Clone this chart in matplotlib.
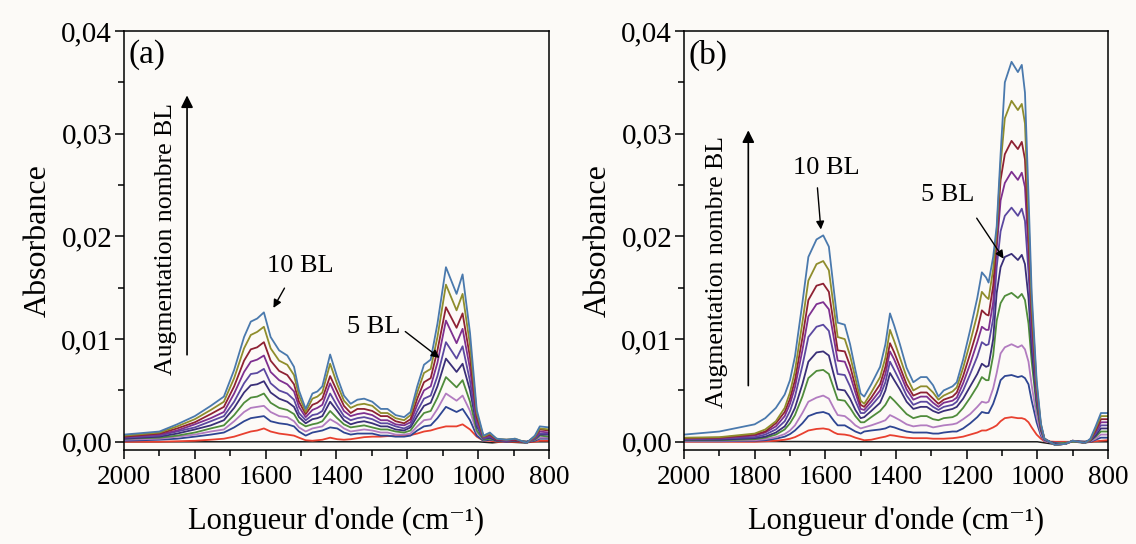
import matplotlib
matplotlib.use('Agg')
import matplotlib.pyplot as plt
from matplotlib.ticker import MultipleLocator, FuncFormatter

plt.rcParams['font.family'] = ['Liberation Serif', 'DejaVu Serif']

# absorbance values are in units of 1e-3
# ---- panel (a) ----
wn_a = [2000, 1900, 1850, 1800, 1755, 1718, 1689, 1661, 1642, 1624,
        1605, 1586, 1562, 1539, 1520, 1506, 1487, 1468, 1454, 1440,
        1418, 1398, 1379, 1360, 1341, 1322, 1299, 1275, 1256, 1233,
        1209, 1191, 1172, 1153, 1134, 1115, 1091, 1061, 1044, 1023,
        1004, 985, 967, 948, 920, 896, 863, 840, 826, 800]
a0_wn = [2000, 1500, 1000, 960, 930, 900, 870, 840, 800]
a0 = [0.0, 0.0, 0.0, -0.1, 0.0, -0.05, -0.1, 0.0, 0.0]
a1 = [0.0, 0.0, 0.05, 0.1, 0.2, 0.3, 0.5, 0.8, 1.0, 1.1,
      1.3, 1.0, 0.8, 0.7, 0.6, 0.4, 0.15, 0.1, 0.15, 0.2,
      0.4, 0.25, 0.2, 0.25, 0.35, 0.45, 0.5, 0.5, 0.55, 0.55,
      0.6, 0.65, 0.8, 1.0, 1.1, 1.3, 1.5, 1.5, 1.7, 1.2,
      0.5, 0.1, 0.1, 0.0, 0.0, 0.0, 0.0, 0.0, 0.1, 0.1]
a2 = [0.1, 0.2, 0.3, 0.5, 0.7, 0.9, 1.4, 2.0, 2.3, 2.4,
      2.5, 2.0, 1.8, 1.7, 1.5, 1.0, 0.6, 0.9, 1.0, 1.1,
      1.4, 1.3, 0.9, 0.7, 0.8, 0.8, 0.8, 0.6, 0.6, 0.5,
      0.5, 0.6, 1.1, 1.5, 1.6, 2.3, 3.4, 2.9, 3.2, 2.1,
      0.6, 0.1, 0.2, 0.1, 0.0, 0.1, 0.0, 0.1, 0.3, 0.3]
a3 = [0.2, 0.3, 0.5, 0.7, 1.0, 1.2, 2.0, 2.9, 3.3, 3.4,
      3.5, 2.9, 2.5, 2.4, 2.0, 1.4, 1.0, 1.3, 1.4, 1.5,
      2.2, 1.8, 1.3, 1.0, 1.1, 1.2, 1.1, 0.9, 0.9, 0.7,
      0.7, 0.8, 1.5, 2.1, 2.2, 3.2, 4.7, 4.0, 4.5, 3.0,
      0.9, 0.2, 0.3, 0.1, 0.1, 0.1, 0.0, 0.2, 0.4, 0.4]
a4 = [0.3, 0.4, 0.6, 0.9, 1.3, 1.6, 2.6, 3.8, 4.3, 4.4,
      4.7, 3.8, 3.3, 3.1, 2.7, 1.9, 1.5, 1.7, 1.8, 2.0,
      3.0, 2.3, 1.7, 1.4, 1.5, 1.6, 1.4, 1.2, 1.2, 1.0,
      0.9, 1.1, 2.0, 2.8, 3.0, 4.3, 6.3, 5.3, 6.0, 3.9,
      1.1, 0.2, 0.3, 0.1, 0.1, 0.1, 0.0, 0.2, 0.6, 0.5]
a5 = [0.3, 0.5, 0.8, 1.2, 1.6, 2.1, 3.3, 4.8, 5.5, 5.6,
      5.9, 4.8, 4.2, 3.9, 3.4, 2.4, 1.8, 2.2, 2.3, 2.5,
      3.9, 3.0, 2.1, 1.7, 1.9, 2.0, 1.8, 1.5, 1.5, 1.2,
      1.1, 1.4, 2.5, 3.5, 3.8, 5.4, 8.1, 6.8, 7.6, 5.0,
      1.5, 0.3, 0.4, 0.1, 0.1, 0.1, 0.0, 0.3, 0.7, 0.7]
a6 = [0.4, 0.6, 1.0, 1.4, 2.0, 2.5, 3.9, 5.7, 6.6, 6.7,
      7.1, 5.7, 5.0, 4.7, 4.1, 2.8, 2.1, 2.6, 2.7, 3.0,
      4.7, 3.5, 2.5, 2.1, 2.3, 2.4, 2.2, 1.8, 1.8, 1.5,
      1.3, 1.6, 3.0, 4.2, 4.5, 6.4, 9.7, 8.1, 9.3, 5.9,
      1.7, 0.3, 0.5, 0.2, 0.1, 0.2, -0.1, 0.3, 0.8, 0.8]
a7 = [0.5, 0.7, 1.1, 1.7, 2.3, 2.9, 4.7, 6.8, 7.8, 8.0,
      8.4, 6.8, 6.0, 5.6, 4.9, 3.4, 2.4, 3.1, 3.3, 3.6,
      5.7, 4.2, 3.0, 2.5, 2.7, 2.8, 2.6, 2.1, 2.1, 1.7,
      1.6, 1.9, 3.6, 5.0, 5.4, 7.7, 11.8, 9.6, 11.0, 7.1,
      2.1, 0.4, 0.6, 0.2, 0.1, 0.2, -0.1, 0.4, 1.0, 0.9]
a8 = [0.5, 0.8, 1.3, 1.9, 2.7, 3.4, 5.4, 7.9, 9.0, 9.2,
      9.7, 7.9, 6.9, 6.5, 5.6, 3.9, 2.7, 3.6, 3.8, 4.2,
      6.4, 4.9, 3.5, 2.8, 3.2, 3.2, 3.0, 2.5, 2.5, 2.0,
      1.8, 2.2, 4.2, 5.8, 6.2, 8.9, 13.1, 11.1, 12.5, 8.2,
      2.4, 0.5, 0.7, 0.2, 0.2, 0.2, -0.1, 0.5, 1.2, 1.1]
a9 = [0.6, 0.9, 1.5, 2.2, 3.1, 3.9, 6.2, 9.1, 10.4, 10.7,
      11.2, 9.1, 7.9, 7.5, 6.5, 4.5, 2.9, 4.2, 4.4, 4.8,
      7.6, 5.6, 4.0, 3.3, 3.6, 3.7, 3.5, 2.8, 2.8, 2.3,
      2.1, 2.6, 4.8, 6.7, 7.1, 10.2, 15.3, 12.8, 14.4, 9.4,
      2.8, 0.5, 0.8, 0.3, 0.2, 0.3, -0.1, 0.5, 1.3, 1.2]
a10 = [0.7, 1.0, 1.7, 2.5, 3.5, 4.4, 7.0, 10.2, 11.7, 12.0,
       12.6, 10.2, 8.9, 8.4, 7.3, 5.0, 3.2, 4.7, 4.9, 5.4,
       8.5, 6.3, 4.5, 3.7, 4.1, 4.2, 3.9, 3.2, 3.2, 2.6,
       2.4, 2.9, 5.4, 7.5, 8.0, 11.5, 17.0, 14.4, 16.3, 10.6,
       3.1, 0.6, 0.9, 0.3, 0.2, 0.3, -0.1, 0.6, 1.5, 1.4]

# ---- panel (b) ----
wn_b = [2000, 1900, 1800, 1770, 1740, 1715, 1700, 1686, 1665, 1648,
        1625, 1606, 1590, 1575, 1565, 1545, 1530, 1515, 1500, 1490,
        1470, 1445, 1430, 1417, 1405, 1389, 1370, 1351, 1330, 1313,
        1295, 1280, 1265, 1240, 1228, 1210, 1190, 1170, 1157, 1145,
        1138, 1125, 1115, 1104, 1092, 1073, 1055, 1044, 1035, 1025,
        1016, 1002, 990, 980, 950, 920, 900, 865, 850, 835,
        820, 800]
b0_wn = [2000, 1500, 1000, 960, 930, 900, 870, 840, 800]
b0 = [0.05, 0.0, 0.0, -0.2, -0.1, 0.0, -0.1, 0.0, 0.0]
b1 = [0.0, 0.0, 0.0, 0.05, 0.1, 0.2, 0.3, 0.45, 0.8, 1.1,
      1.25, 1.3, 1.2, 0.9, 0.75, 0.7, 0.6, 0.4, 0.25, 0.15,
      0.2, 0.4, 0.5, 0.65, 0.6, 0.5, 0.4, 0.35, 0.35, 0.35,
      0.3, 0.3, 0.3, 0.35, 0.4, 0.5, 0.7, 0.9, 1.1, 1.1,
      1.2, 1.4, 1.6, 2.0, 2.3, 2.4, 2.3, 2.3, 2.2, 1.9,
      1.4, 0.7, 0.3, 0.05, 0.0, 0.0, 0.0, 0.0, 0.0, 0.05,
      0.1, 0.15]
b2 = [0.05, 0.05, 0.1, 0.15, 0.3, 0.5, 0.75, 1.1, 1.8, 2.5,
      2.8, 2.9, 2.7, 2.0, 1.6, 1.6, 1.3, 1.0, 0.8, 1.0,
      1.1, 1.2, 1.3, 1.5, 1.4, 1.2, 1.0, 0.9, 0.9, 0.9,
      0.8, 0.8, 0.9, 1.0, 1.0, 1.3, 1.8, 2.4, 2.9, 2.8,
      2.8, 3.7, 4.7, 6.0, 6.4, 6.5, 6.3, 6.4, 6.2, 5.6,
      4.0, 1.9, 0.6, 0.1, -0.1, -0.1, 0.0, 0.0, 0.0, 0.2,
      0.4, 0.4]
b3 = [0.1, 0.1, 0.15, 0.25, 0.45, 0.75, 1.1, 1.6, 2.8, 3.9,
      4.3, 4.5, 4.2, 3.2, 2.6, 2.5, 2.1, 1.6, 1.3, 1.4,
      1.6, 1.9, 2.1, 2.6, 2.4, 2.1, 1.7, 1.5, 1.6, 1.6,
      1.4, 1.5, 1.6, 1.7, 1.8, 2.2, 2.7, 3.4, 3.9, 3.8,
      3.9, 5.2, 6.7, 8.6, 9.2, 9.5, 9.2, 9.4, 9.0, 7.8,
      5.5, 2.5, 0.8, 0.1, -0.2, -0.1, 0.0, 0.0, 0.05, 0.3,
      0.7, 0.7]
b4 = [0.15, 0.15, 0.25, 0.4, 0.7, 1.2, 1.8, 2.6, 4.4, 6.2,
      6.9, 7.0, 6.6, 5.1, 4.1, 4.0, 3.3, 2.5, 1.9, 1.9,
      2.4, 3.0, 3.6, 4.4, 4.0, 3.4, 2.7, 2.3, 2.5, 2.5,
      2.2, 2.1, 2.3, 2.4, 2.6, 3.3, 4.3, 5.4, 6.3, 6.0,
      6.0, 8.4, 11.8, 13.5, 14.2, 14.5, 14.0, 14.4, 13.8, 11.5,
      7.8, 3.4, 1.1, 0.2, -0.2, -0.1, 0.0, 0.0, 0.1, 0.5,
      1.0, 1.0]
b5 = [0.2, 0.2, 0.35, 0.5, 0.9, 1.5, 2.3, 3.3, 5.6, 7.8,
      8.7, 8.8, 8.4, 6.4, 5.1, 5.0, 4.2, 3.1, 2.3, 2.4,
      3.0, 3.8, 5.0, 6.7, 6.0, 5.1, 3.9, 3.2, 3.4, 3.4,
      3.0, 2.8, 3.0, 3.2, 3.4, 4.2, 5.4, 6.6, 7.6, 7.3,
      7.4, 10.0, 14.5, 17.0, 18.0, 18.3, 17.7, 18.2, 17.3, 14.0,
      9.0, 3.9, 1.2, 0.2, -0.2, -0.2, 0.1, 0.0, 0.1, 0.6,
      1.3, 1.3]
b6 = [0.25, 0.3, 0.45, 0.7, 1.2, 2.0, 3.0, 4.4, 7.4, 10.2,
      11.2, 11.4, 10.8, 8.3, 6.6, 6.5, 5.4, 4.0, 2.8, 2.8,
      3.5, 4.5, 5.8, 7.8, 7.0, 5.9, 4.5, 3.6, 3.9, 3.9,
      3.4, 3.1, 3.4, 3.6, 3.9, 5.0, 6.6, 8.3, 9.7, 9.4,
      9.5, 12.0, 17.0, 20.5, 22.0, 22.8, 22.0, 22.7, 21.5, 16.5,
      10.5, 4.4, 1.4, 0.2, -0.3, -0.2, 0.1, -0.1, 0.15, 0.8,
      1.6, 1.6]
b7 = [0.3, 0.35, 0.6, 0.9, 1.5, 2.5, 3.7, 5.3, 8.9, 12.2,
      13.4, 13.6, 12.9, 9.9, 7.9, 7.8, 6.5, 4.8, 3.2, 3.1,
      3.9, 5.0, 6.6, 8.8, 8.0, 6.7, 5.1, 4.1, 4.4, 4.4,
      3.8, 3.4, 3.8, 4.0, 4.3, 5.7, 7.6, 9.7, 11.2, 10.9,
      10.9, 13.6, 18.8, 23.5, 25.2, 26.3, 25.5, 26.2, 24.8, 18.5,
      11.5, 4.8, 1.5, 0.3, -0.3, -0.2, 0.1, -0.1, 0.2, 1.0,
      1.9, 1.9]
b8 = [0.35, 0.4, 0.7, 1.0, 1.8, 2.9, 4.2, 6.0, 10.1, 13.8,
      15.2, 15.4, 14.6, 11.2, 8.9, 8.8, 7.4, 5.4, 3.6, 3.4,
      4.3, 5.6, 7.3, 9.6, 8.7, 7.3, 5.6, 4.5, 4.8, 4.8,
      4.2, 3.7, 4.1, 4.4, 4.8, 6.4, 8.6, 10.9, 12.8, 12.4,
      12.3, 15.2, 19.8, 25.5, 28.0, 29.3, 28.5, 29.2, 27.5, 20.0,
      12.5, 5.2, 1.6, 0.3, -0.3, -0.2, 0.1, -0.1, 0.2, 1.1,
      2.2, 2.2]
b9 = [0.4, 0.45, 0.8, 1.2, 2.0, 3.3, 4.8, 6.9, 11.6, 15.7,
      17.3, 17.6, 16.7, 12.8, 10.2, 10.0, 8.4, 6.2, 4.0, 3.7,
      4.8, 6.3, 8.2, 10.9, 9.8, 8.2, 6.3, 5.0, 5.4, 5.4,
      4.8, 4.1, 4.5, 4.9, 5.3, 7.2, 9.7, 12.4, 14.6, 14.1,
      13.9, 16.8, 20.5, 27.0, 31.5, 33.2, 32.3, 32.9, 31.0, 22.0,
      13.5, 5.6, 1.7, 0.3, -0.3, -0.2, 0.1, -0.1, 0.2, 1.3,
      2.5, 2.5]
b10 = [0.7, 1.0, 1.7, 2.3, 3.3, 4.6, 6.0, 8.3, 13.5, 18.0,
       19.7, 20.1, 19.0, 14.5, 11.6, 11.4, 9.5, 7.0, 4.7, 4.4,
       5.6, 7.3, 9.5, 12.5, 11.3, 9.5, 7.2, 5.8, 6.3, 6.3,
       5.5, 4.4, 5.0, 5.4, 5.8, 8.0, 10.9, 14.0, 16.5, 16.0,
       15.5, 18.0, 21.0, 28.0, 35.0, 37.0, 36.0, 36.7, 34.0, 24.0,
       14.5, 6.0, 1.8, 0.3, -0.3, -0.2, 0.1, -0.1, 0.3, 1.5,
       2.8, 2.8]

colours = ['#1c1c1c', '#e8402f', '#2e4592', '#b27cc0', '#4f8c3b', '#3a2f78',
           '#5b48a0', '#7e3090', '#8e2233', '#8f8d2c', '#4a79ad']
BG = '#fcfaf7'


def yfmt(v, pos):
    return ('%.2f' % (v / 1000.0)).replace('.', ',')


def setup(ax, tag):
    ax.set_facecolor(BG)
    ax.set_xlim(2000, 800)
    ax.set_ylim(-0.8, 40)
    ax.xaxis.set_major_locator(MultipleLocator(200))
    ax.xaxis.set_minor_locator(MultipleLocator(100))
    ax.yaxis.set_major_locator(MultipleLocator(10))
    ax.yaxis.set_minor_locator(MultipleLocator(5))
    ax.yaxis.set_major_formatter(FuncFormatter(yfmt))
    ax.tick_params(which='both', direction='out', width=1.1, top=False, right=False)
    ax.tick_params(which='major', length=6.5)
    ax.tick_params(which='minor', length=4)
    ax.tick_params(axis='x', labelsize=19.5, pad=4)
    ax.tick_params(axis='y', labelsize=21, pad=2)
    for s in ax.spines.values():
        s.set_linewidth(1.1)
    ax.set_xlabel("Longueur d'onde (cm\u207b\u00b9)", fontsize=22, labelpad=12)
    ax.set_ylabel('Absorbance', fontsize=23, labelpad=6)
    ax.text(0.010, 0.943, tag, transform=ax.transAxes, fontsize=24,
            ha='left', va='center')


fig = plt.figure(figsize=(11.36, 5.44), dpi=100, facecolor=BG)
axA = fig.add_axes([124 / 1136, 1 - 450 / 544, 425 / 1136, 419 / 544])
axB = fig.add_axes([684 / 1136, 1 - 450 / 544, 424 / 1136, 419 / 544])

# panel (a)
setup(axA, '(a)')
axA.plot(a0_wn, a0, color=colours[0], lw=1.1)
for i, y in enumerate([a1, a2, a3, a4, a5, a6, a7, a8, a9, a10]):
    axA.plot(wn_a, y, color=colours[i + 1], lw=1.3)
axA.annotate('', xy=(1822, 34.0), xytext=(1822, 8.2),
             arrowprops=dict(arrowstyle='-|>', color='black', lw=1.2, mutation_scale=18))
axA.text(1881, 19.7, 'Augmentation nombre BL', rotation=90, fontsize=18.5,
         ha='center', va='center')
axA.text(1503, 17.1, '10 BL', fontsize=19, ha='center', va='center')
axA.annotate('', xy=(1582, 12.8), xytext=(1543, 15.2),
             arrowprops=dict(arrowstyle='-|>', color='black', lw=1.0, mutation_scale=12))
axA.text(1294, 11.2, '5 BL', fontsize=19, ha='center', va='center')
axA.annotate('', xy=(1103, 8.0), xytext=(1212, 10.9),
             arrowprops=dict(arrowstyle='-|>', color='black', lw=1.0, mutation_scale=12))

# panel (b)
setup(axB, '(b)')
axB.plot(b0_wn, b0, color=colours[0], lw=1.1)
for i, y in enumerate([b1, b2, b3, b4, b5, b6, b7, b8, b9, b10]):
    axB.plot(wn_b, y, color=colours[i + 1], lw=1.3)
axB.annotate('', xy=(1818, 30.6), xytext=(1818, 5.2),
             arrowprops=dict(arrowstyle='-|>', color='black', lw=1.2, mutation_scale=18))
axB.text(1907, 16.5, 'Augmentation nombre BL', rotation=90, fontsize=18.5,
         ha='center', va='center')
axB.text(1598, 26.7, '10 BL', fontsize=19, ha='center', va='center')
axB.annotate('', xy=(1612, 20.4), xytext=(1623, 25.0),
             arrowprops=dict(arrowstyle='-|>', color='black', lw=1.0, mutation_scale=12))
axB.text(1253, 24.0, '5 BL', fontsize=19, ha='center', va='center')
axB.annotate('', xy=(1091, 17.6), xytext=(1176, 22.0),
             arrowprops=dict(arrowstyle='-|>', color='black', lw=1.0, mutation_scale=12))

fig.savefig('out.png', dpi=100, facecolor=BG)
